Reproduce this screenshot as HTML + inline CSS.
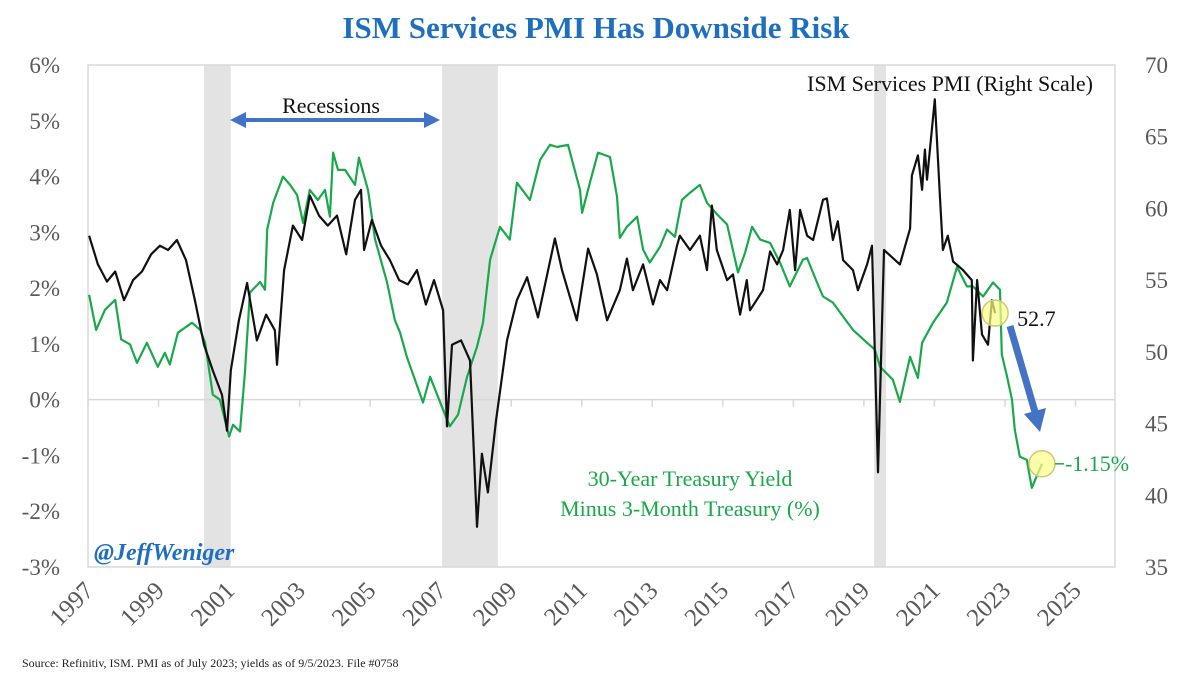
<!DOCTYPE html>
<html><head><meta charset="utf-8"><style>
body{margin:0;background:#fff;}
svg{display:block;font-family:"Liberation Serif",serif;}
</style></head><body>
<svg id="c" width="1200" height="675" viewBox="0 0 1200 675">
<text x="596" y="38" text-anchor="middle" font-size="31" font-weight="bold" fill="#1f6fc0">ISM Services PMI Has Downside Risk</text>
<g id="rec"></g>
<rect x="88" y="65" width="1027" height="502" fill="none" stroke="#d9d9d9" stroke-width="1.5"/>
<g id="axes"></g>
<g id="series"></g>
<text x="331" y="113" text-anchor="middle" font-size="22" fill="#111">Recessions</text>
<g fill="#4472c4">
<rect x="242" y="118" width="186" height="4"/>
<polygon points="230,120 246,112 246,128"/>
<polygon points="440,120 424,112 424,128"/>
</g>
<text x="1093" y="91" text-anchor="end" font-size="22" fill="#111">ISM Services PMI (Right Scale)</text>
<text x="690" y="486" text-anchor="middle" font-size="22" fill="#1aa84b">30-Year Treasury Yield</text>
<text x="690" y="516" text-anchor="middle" font-size="22" fill="#1aa84b">Minus 3-Month Treasury (%)</text>
<text x="94" y="560" font-size="24" font-weight="bold" font-style="italic" fill="#1f6fc0">@JeffWeniger</text>
<text x="22" y="667" font-size="12" fill="#222">Source: Refinitiv, ISM. PMI as of July 2023; yields as of 9/5/2023. File #0758</text>
<g id="annot"></g>
</svg>
<script>
const recStart=[2000.29,2007.04,2019.29];
const recEnd=[2001.05,2008.62,2019.63];
const leftTicks=[6,5,4,3,2,1,0,-1,-2,-3];
const rightTicks=[70,65,60,55,50,45,40,35];
const yearTicks=[1997,1999,2001,2003,2005,2007,2009,2011,2013,2015,2017,2019,2021,2023,2025];
const pmiDates=[1997.03,1997.28,1997.54,1997.77,1998.02,1998.28,1998.53,1998.79,1999.04,1999.27,1999.52,1999.78,2000.03,2000.29,2000.54,2000.80,2000.94,2001.05,2001.28,2001.51,2001.79,2002.05,2002.30,2002.36,2002.56,2002.81,2003.07,2003.29,2003.55,2003.80,2004.06,2004.32,2004.57,2004.74,2004.83,2005.05,2005.31,2005.56,2005.82,2006.07,2006.33,2006.58,2006.81,2007.07,2007.18,2007.32,2007.58,2007.83,2008.03,2008.17,2008.34,2008.57,2008.88,2009.16,2009.45,2009.76,2010.24,2010.44,2010.86,2011.18,2011.43,2011.72,2012.08,2012.28,2012.45,2012.74,2013.02,2013.22,2013.42,2013.70,2013.78,2014.07,2014.35,2014.55,2014.69,2014.83,2015.12,2015.29,2015.49,2015.68,2015.77,2016.14,2016.34,2016.54,2016.71,2016.90,2017.05,2017.19,2017.39,2017.56,2017.84,2017.95,2018.12,2018.26,2018.41,2018.69,2018.83,2019.09,2019.23,2019.40,2019.57,2020.02,2020.31,2020.36,2020.53,2020.65,2020.73,2020.79,2021.01,2021.16,2021.24,2021.38,2021.53,2021.81,2022.06,2022.09,2022.21,2022.35,2022.52,2022.63,2022.72];
const pmiValues=[58.1,56.1,54.9,55.6,53.6,55.0,55.6,56.8,57.4,57.1,57.8,56.4,53.6,50.5,48.7,47.0,44.5,48.7,52.2,54.8,50.8,52.6,51.5,49.1,55.7,58.8,57.8,60.9,59.5,58.8,59.5,56.8,60.6,61.3,57.1,59.2,57.4,56.4,55.0,54.7,55.7,53.3,55.0,52.9,44.8,50.5,50.8,49.4,37.8,42.9,40.2,45.2,50.8,53.6,55.2,52.4,57.9,55.7,52.2,57.2,55.4,52.2,54.3,56.5,54.3,56.1,53.3,55.0,54.3,57.4,58.1,57.1,58.1,55.7,60.2,57.1,55.0,55.4,52.6,55.0,52.9,54.3,57.0,56.1,57.1,59.9,55.7,59.9,58.1,57.8,60.6,60.7,57.8,59.1,56.4,55.7,54.3,56.1,57.4,41.6,57.1,56.1,58.6,62.3,63.7,61.3,64.1,62.0,67.6,60.6,57.1,58.1,56.3,55.7,55.0,49.4,55.0,51.2,50.5,53.6,52.7];
const spreadDates=[1997.03,1997.23,1997.48,1997.77,1997.94,1998.19,1998.39,1998.67,1998.98,1999.18,1999.32,1999.55,1999.95,2000.18,2000.32,2000.54,2000.74,2001.00,2001.11,2001.31,2001.45,2001.59,2001.88,2002.02,2002.08,2002.25,2002.53,2002.73,2002.93,2003.10,2003.29,2003.52,2003.72,2003.86,2003.95,2004.09,2004.29,2004.57,2004.68,2004.94,2005.14,2005.48,2005.70,2005.85,2006.04,2006.50,2006.70,2007.07,2007.26,2007.49,2007.75,2008.03,2008.20,2008.40,2008.68,2008.96,2009.16,2009.53,2009.82,2010.10,2010.30,2010.61,2010.95,2011.01,2011.23,2011.46,2011.80,2012.00,2012.08,2012.28,2012.57,2012.74,2012.93,2013.22,2013.42,2013.64,2013.84,2014.07,2014.35,2014.55,2014.84,2015.12,2015.43,2015.63,2015.83,2016.06,2016.34,2016.62,2016.90,2017.27,2017.39,2017.67,2017.84,2018.12,2018.41,2018.69,2019.09,2019.31,2019.46,2019.82,2020.02,2020.31,2020.53,2020.65,2020.96,2021.35,2021.64,2021.92,2022.09,2022.38,2022.66,2022.86,2022.91,2023.06,2023.20,2023.28,2023.42,2023.62,2023.76,2024.05];
const spreadValues=[1.88,1.25,1.61,1.79,1.08,0.99,0.66,1.02,0.59,0.84,0.63,1.20,1.38,1.25,1.02,0.09,0.00,-0.66,-0.45,-0.57,0.48,1.92,2.11,1.97,3.05,3.53,4.00,3.85,3.67,3.17,3.76,3.58,3.76,3.28,4.43,4.12,4.12,3.85,4.34,3.76,2.87,2.10,1.43,1.20,0.77,-0.05,0.41,-0.18,-0.48,-0.27,0.41,0.95,1.38,2.51,3.10,2.87,3.89,3.58,4.30,4.57,4.53,4.57,3.76,3.35,3.89,4.43,4.35,3.64,2.90,3.10,3.28,2.69,2.46,2.74,3.05,2.92,3.58,3.71,3.85,3.53,3.32,3.14,2.28,2.63,3.10,2.87,2.81,2.46,2.03,2.51,2.54,2.10,1.85,1.74,1.49,1.25,1.02,0.90,0.59,0.36,-0.04,0.77,0.39,1.02,1.38,1.74,2.38,2.03,2.03,1.85,2.10,1.97,0.81,0.41,0.00,-0.54,-1.02,-1.08,-1.58,-1.15];

const X0=88,X1=1115,Y0=65,Y1=567;
const xS=t=>X0+(t-1997)*(X1-X0)/(2026.12-1997);
const yL=v=>Y0+(6-v)*(Y1-Y0)/9;
const yR=v=>Y0+(70-v)*(Y1-Y0)/35;
const NS='http://www.w3.org/2000/svg';
function mk(tag,attrs,parent){const e=document.createElementNS(NS,tag);for(const k in attrs)e.setAttribute(k,attrs[k]);parent.appendChild(e);return e;}
const rec=document.getElementById('rec');
recStart.forEach((s,i)=>{
 const r=mk('rect',{x:xS(s),y:Y0,width:xS(recEnd[i])-xS(s),height:Y1-Y0,fill:'#e3e3e3'},rec);
 
 
});
const ax=document.getElementById('axes');
const zl=mk('line',{x1:X0,x2:X1,y1:yL(0),y2:yL(0),stroke:'#d9d9d9','stroke-width':1.5},ax);


leftTicks.forEach(v=>{
 const t=mk('text',{x:60,y:yL(v)+8,'text-anchor':'end','font-size':23,fill:'#595959'},ax);
 t.textContent=(v<0?'-'+Math.abs(v):v)+'%';
 
 
});
rightTicks.forEach(v=>{
 const t=mk('text',{x:1145,y:yR(v)+8,'font-size':23,fill:'#595959'},ax);
 t.textContent=v;
 
 
});
yearTicks.forEach(y=>{
 const x=xS(y);
 const l=mk('line',{x1:x,x2:x,y1:yL(0),y2:yL(0)+7,stroke:'#d9d9d9','stroke-width':1.5},ax);
 
 
 const t=mk('text',{x:x+7,y:592,'text-anchor':'end','font-size':25,fill:'#595959',transform:`rotate(-45 ${x+7} 592)`},ax);
 t.textContent=y;
 
 
});
const ser=document.getElementById('series');
const gp=mk('path',{d:spreadDates.map((t,i)=>(i?'L':'M')+xS(t).toFixed(1)+','+yL(spreadValues[i]).toFixed(1)).join(''),fill:'none',stroke:'#1aa84b','stroke-width':2.2,'stroke-linejoin':'round'},ser);


const bp=mk('path',{d:pmiDates.map((t,i)=>(i?'L':'M')+xS(t).toFixed(1)+','+yR(pmiValues[i]).toFixed(1)).join(''),fill:'none',stroke:'#111','stroke-width':2.2,'stroke-linejoin':'round'},ser);


const an=document.getElementById('annot');
const pl=pmiDates.length-1, sl=spreadDates.length-1;
const px=xS(pmiDates[pl]), py=yR(pmiValues[pl]);
const sx=xS(spreadDates[sl]), sy=yL(spreadValues[sl]);
const c1=mk('circle',{cx:px,cy:py,r:13,fill:'#ffff88','fill-opacity':0.7,stroke:'#c9c97a','stroke-width':1.5},an);


const t1=mk('text',{x:px+22,y:py+13,'font-size':22,fill:'#111'},an);
t1.textContent=pmiValues[pl];


const c2=mk('circle',{cx:sx,cy:sy,r:13,fill:'#ffff88','fill-opacity':0.7,stroke:'#c9c97a','stroke-width':1.5},an);


const l2=mk('line',{x1:sx+13,x2:sx+22,y1:sy,y2:sy,stroke:'#1aa84b','stroke-width':1.5},an);


const t2=mk('text',{x:sx+23,y:sy+7,'font-size':22,fill:'#1aa84b'},an);
t2.textContent=spreadValues[sl].toFixed(2)+'%';


const ar=mk('g',{fill:'#4472c4'},an);


mk('line',{x1:1010,y1:326,x2:1035,y2:412,stroke:'#4472c4','stroke-width':7},ar);
mk('polygon',{points:'1024,414 1046,408 1040,432'},ar);
</script>
</body></html>
